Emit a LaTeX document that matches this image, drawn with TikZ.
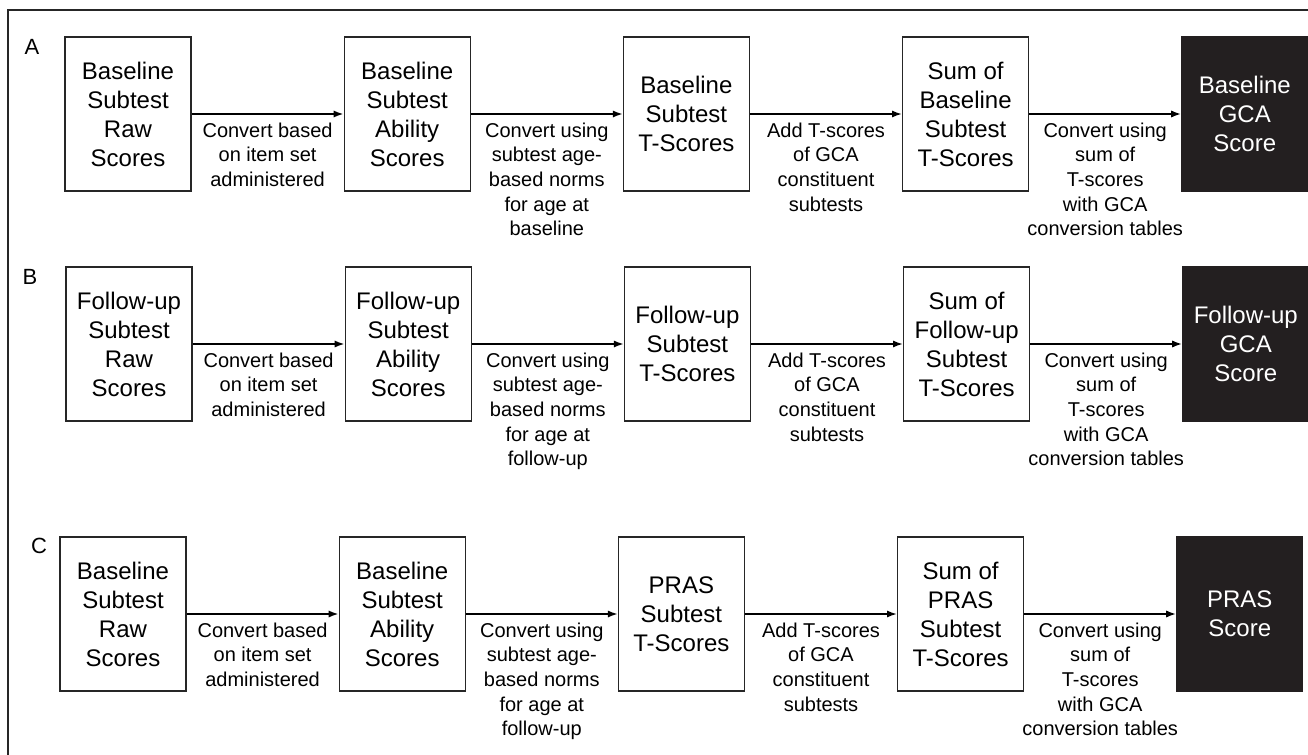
\documentclass[tikz,border=0pt]{standalone}
\usepackage{fontspec}
\setmainfont{Liberation Sans}
\usetikzlibrary{positioning,arrows.meta}
\definecolor{resfill}{HTML}{231F20}
\tikzset{
  box/.style={draw=black!85, line width=0.6pt, minimum width=63pt, minimum height=77pt,
    align=center, inner sep=1pt, font=\fontsize{12}{14.5}\selectfont},
  res/.style={box, draw=resfill, fill=resfill, text=white},
  lbl/.style={align=center, inner sep=2pt, font=\fontsize{10}{12.3}\selectfont},
  conv/.style={-{Latex[length=5pt,width=3.6pt]}, line width=0.9pt},
  tag/.style={font=\fontsize{11}{13}\selectfont}
}

\begin{document}
\begin{tikzpicture}[x=0.5pt, y=-0.5pt, node distance=76pt]
\useasboundingbox (0,0) rectangle (1308,755);
\draw[line width=0.6pt, black!85] (8,755) -- (8,10) -- (1308,10);

\node[tag] (ta) at (32,47) {A};
\node[tag] (tb) at (30,277) {B};
\node[tag] (tc) at (39,546) {C};

\node[box] (a1) at (128,114) {Baseline\\Subtest\\Raw\\Scores};
\node[box, right=of a1] (a2) {Baseline\\Subtest\\Ability\\Scores};
\node[box, right=of a2] (a3) {Baseline\\Subtest\\T-Scores};
\node[box, right=of a3] (a4) {Sum of\\Baseline\\Subtest\\T-Scores};
\node[res, right=of a4] (a5) {Baseline\\GCA\\Score};

\node[box] (b1) at (129,344) {Follow-up\\Subtest\\Raw\\Scores};
\node[box, right=of b1] (b2) {Follow-up\\Subtest\\Ability\\Scores};
\node[box, right=of b2] (b3) {Follow-up\\Subtest\\T-Scores};
\node[box, right=of b3] (b4) {Sum of\\Follow-up\\Subtest\\T-Scores};
\node[res, right=of b4] (b5) {Follow-up\\GCA\\Score};

\node[box] (c1) at (123,614) {Baseline\\Subtest\\Raw\\Scores};
\node[box, right=of c1] (c2) {Baseline\\Subtest\\Ability\\Scores};
\node[box, right=of c2] (c3) {PRAS\\Subtest\\T-Scores};
\node[box, right=of c3] (c4) {Sum of\\PRAS\\Subtest\\T-Scores};
\node[res, right=of c4] (c5) {PRAS\\Score};

\draw[conv] (a1) -- node[lbl, below=2pt] {Convert based\\on item set\\administered} (a2);
\draw[conv] (a2) -- node[lbl, below=2pt] {Convert using\\subtest age-\\based norms\\for age at\\baseline} (a3);
\draw[conv] (a3) -- node[lbl, below=2pt] {Add T-scores\\of GCA\\constituent\\subtests} (a4);
\draw[conv] (a4) -- node[lbl, below=2pt] {Convert using\\sum of\\T-scores\\with GCA\\conversion tables} (a5);

\draw[conv] (b1) -- node[lbl, below=2pt] {Convert based\\on item set\\administered} (b2);
\draw[conv] (b2) -- node[lbl, below=2pt] {Convert using\\subtest age-\\based norms\\for age at\\follow-up} (b3);
\draw[conv] (b3) -- node[lbl, below=2pt] {Add T-scores\\of GCA\\constituent\\subtests} (b4);
\draw[conv] (b4) -- node[lbl, below=2pt] {Convert using\\sum of\\T-scores\\with GCA\\conversion tables} (b5);

\draw[conv] (c1) -- node[lbl, below=2pt] {Convert based\\on item set\\administered} (c2);
\draw[conv] (c2) -- node[lbl, below=2pt] {Convert using\\subtest age-\\based norms\\for age at\\follow-up} (c3);
\draw[conv] (c3) -- node[lbl, below=2pt] {Add T-scores\\of GCA\\constituent\\subtests} (c4);
\draw[conv] (c4) -- node[lbl, below=2pt] {Convert using\\sum of\\T-scores\\with GCA\\conversion tables} (c5);
\end{tikzpicture}
\end{document}
